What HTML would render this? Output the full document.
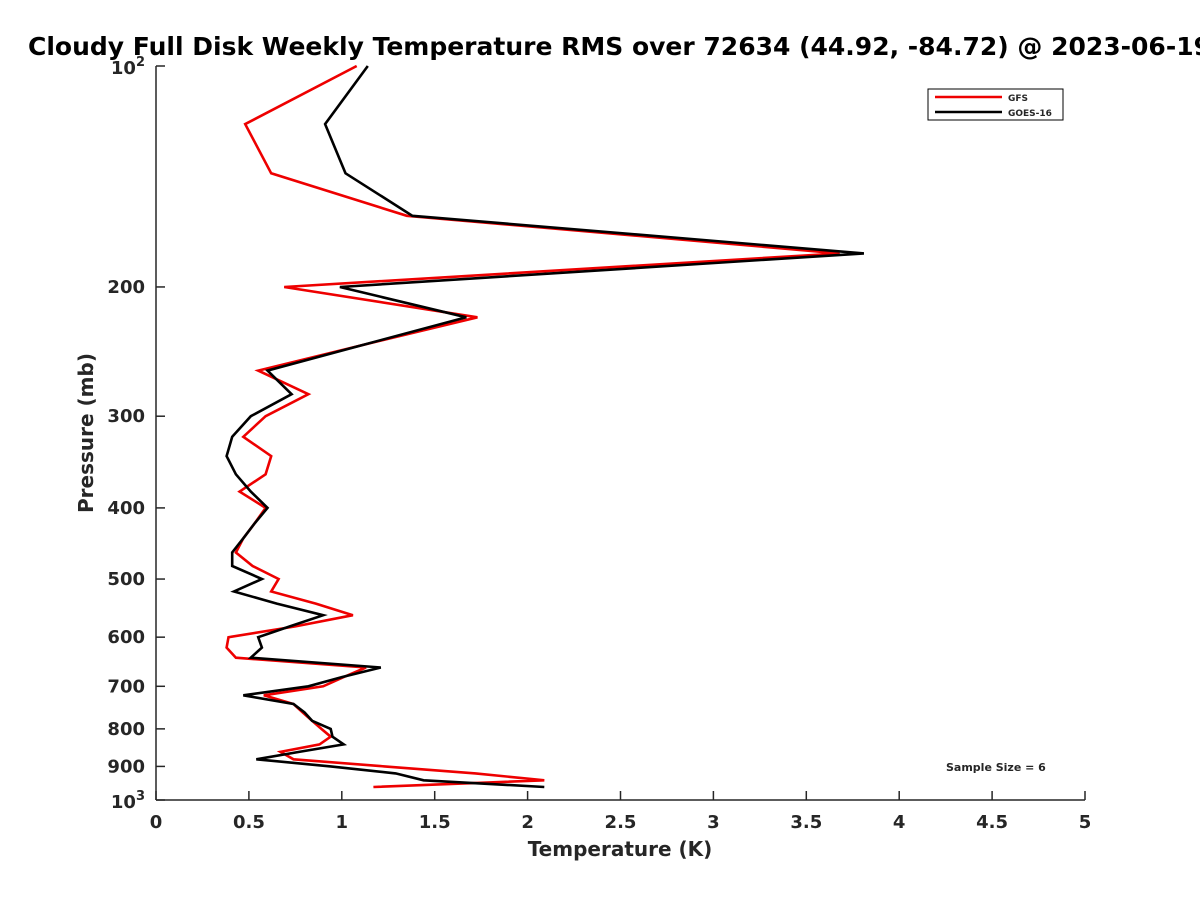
<!DOCTYPE html>
<html><head><meta charset="utf-8"><style>
body{margin:0;background:#fff;overflow:hidden;}
svg text{font-family:"DejaVu Sans","Liberation Sans",sans-serif;font-weight:bold;fill:#262626;}
</style></head><body>
<svg id="chart" width="1200" height="900" viewBox="0 0 1200 900" xmlns="http://www.w3.org/2000/svg">
<rect width="1200" height="900" fill="#fff"/>
<text x="28" y="55" font-size="25" style="fill:#000">Cloudy Full Disk Weekly Temperature RMS over 72634 (44.92, -84.72) @ 2023-06-19</text>
<g id="axes"></g>
<g id="series"></g>
<text x="620" y="856" font-size="20" text-anchor="middle">Temperature (K)</text>
<text transform="translate(93,433) rotate(-90)" font-size="20" text-anchor="middle">Pressure (mb)</text>
<g>
<rect x="928" y="89" width="135" height="31" fill="#fff" stroke="#000" stroke-width="1"/>
<line x1="935" y1="97" x2="1002" y2="97" stroke="#e00" stroke-width="2.5"/>
<text x="1008" y="101" font-size="9">GFS</text>
<line x1="935" y1="112" x2="1002" y2="112" stroke="#000" stroke-width="2.5"/>
<text x="1008" y="116" font-size="9">GOES-16</text>
</g>
<text x="946" y="771" font-size="11">Sample Size = 6</text>
</svg>
<script>
const pressures=[100,120,140,160,180,200,220,240,260,280,300,320,340,360,380,400,420,440,460,480,500,520,540,560,580,600,620,640,660,680,700,720,740,760,780,800,820,840,860,880,900,920,940,960];
const gfs=[1.08,0.48,0.62,1.35,3.68,0.69,1.73,1.11,0.55,0.82,0.59,0.47,0.62,0.59,0.45,0.59,0.53,0.47,0.43,0.52,0.66,0.62,0.86,1.06,0.75,0.39,0.38,0.43,1.13,1.01,0.90,0.58,0.74,0.79,0.84,0.89,0.94,0.88,0.67,0.74,1.23,1.72,2.09,1.17];
const goes=[1.14,0.91,1.02,1.38,3.81,0.99,1.67,1.11,0.60,0.73,0.51,0.41,0.38,0.43,0.51,0.60,0.53,0.47,0.41,0.41,0.57,0.42,0.65,0.90,0.72,0.55,0.57,0.51,1.21,1.00,0.82,0.47,0.74,0.80,0.84,0.94,0.95,1.01,0.77,0.54,0.94,1.29,1.44,2.09];
const xTicks=[0,0.5,1,1.5,2,2.5,3,3.5,4,4.5,5];
const xTickLabels=["0","0.5","1","1.5","2","2.5","3","3.5","4","4.5","5"];
const yTicks=[200,300,400,500,600,700,800,900];
const NS="http://www.w3.org/2000/svg";
const X0=156,X1=1085,Y0=66,Y1=800;
function xs(v){return X0+(v-0)/(5-0)*(X1-X0);}
function ys(p){return Y0+(Math.log10(p)-2)*(Y1-Y0);}
function mk(t,a,parent){const e=document.createElementNS(NS,t);for(const k in a)e.setAttribute(k,a[k]);parent.appendChild(e);return e;}
const ax=document.getElementById('axes');
let l=mk('line',{x1:X0,y1:Y0,x2:X0,y2:Y1,stroke:'#262626','stroke-width':1.5},ax);


l=mk('line',{x1:X0,y1:Y1,x2:X1,y2:Y1,stroke:'#262626','stroke-width':1.5},ax);


xTicks.forEach((v,i)=>{
  const t=mk('line',{x1:xs(v),y1:Y1,x2:xs(v),y2:Y1-9,stroke:'#262626','stroke-width':1.5},ax);
  
  
  const tx=mk('text',{x:xs(v),y:Y1+28,'font-size':18,'text-anchor':'middle'},ax);
  tx.textContent=xTickLabels[i];
  
  
});
[100].concat(yTicks,[1000]).forEach(p=>{
  const t=mk('line',{x1:X0,y1:ys(p),x2:X0+9,y2:ys(p),stroke:'#262626','stroke-width':1.5},ax);
  
  
});
yTicks.forEach(p=>{
  const tx=mk('text',{x:X0-11,y:ys(p)+6,'font-size':18,'text-anchor':'end'},ax);
  tx.textContent=String(p);
  
  
});
[[100,'2'],[1000,'3']].forEach(([p,e])=>{
  const tx=mk('text',{x:X0-11,y:ys(p)+8,'font-size':18,'text-anchor':'end'},ax);
  tx.innerHTML='10<tspan dy="-8" font-size="13">'+e+'</tspan>';
  
  
});
const sg=document.getElementById('series');
function line(vals,col,name){
  const d=vals.map((v,i)=>(i?'L':'M')+xs(v).toFixed(1)+','+ys(pressures[i]).toFixed(1)).join(' ');
  const p=mk('path',{d:d,fill:'none',stroke:col,'stroke-width':2.6,'stroke-linejoin':'miter'},sg);
  
  
}
line(gfs,'#e00','gfs-line');
line(goes,'#000','goes16-line');
</script>
</body></html>
